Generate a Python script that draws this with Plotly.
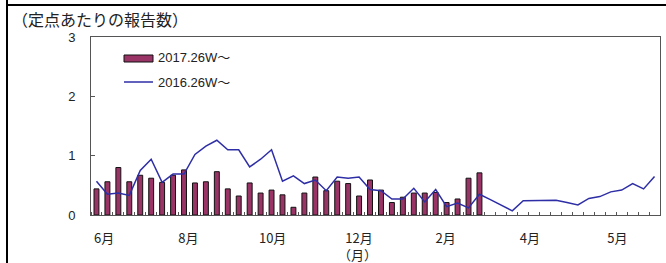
import plotly.graph_objects as go

# ---- data ----
weeks_2016 = list(range(52))
values_2016 = [0.57, 0.35, 0.37, 0.33, 0.75, 0.94, 0.55, 0.69, 0.69, 1.02,
               1.16, 1.26, 1.10, 1.10, 0.81, 0.94, 1.10, 0.57, 0.66, 0.53,
               0.59, 0.41, 0.64, 0.62, 0.64, 0.43, 0.41, 0.27, 0.27, 0.45,
               0.22, 0.43, 0.14, 0.20, 0.12, 0.35, 0.26, 0.17, 0.07, 0.24,
               0.24, 0.25, 0.25, 0.21, 0.17, 0.28, 0.31, 0.39, 0.42, 0.53,
               0.44, 0.65]
weeks_2017 = list(range(36))
values_2017 = [0.44, 0.56, 0.80, 0.56, 0.67, 0.62, 0.55, 0.67, 0.76, 0.54,
               0.56, 0.73, 0.44, 0.32, 0.54, 0.37, 0.42, 0.34, 0.13, 0.37,
               0.64, 0.41, 0.57, 0.53, 0.32, 0.59, 0.42, 0.21, 0.30, 0.37,
               0.37, 0.38, 0.21, 0.27, 0.62, 0.71]
month_labels = ["6月", "8月", "10月", "12月", "2月", "4月", "5月"]
month_positions = [0.7, 8.4, 16.1, 24.0, 31.9, 39.6, 47.6]
series_names = ["2017.26W～", "2016.26W～"]

FONT = "Liberation Sans, Arial, Noto Sans CJK JP, sans-serif"
JFONT = "Noto Sans CJK JP, Liberation Sans, sans-serif"
BAR_COLOR = "#9A3466"
LINE_COLOR = "#2E2EA6"
TXT = "#222222"

fig = go.Figure()
fig.add_trace(go.Bar(x=weeks_2017, y=values_2017, name=series_names[0],
                     width=0.45, marker=dict(color=BAR_COLOR,
                     line=dict(color="#111111", width=1)), showlegend=False))
fig.add_trace(go.Scatter(x=weeks_2016, y=values_2016, name=series_names[1],
                         mode="lines", line=dict(color=LINE_COLOR, width=1.5),
                         showlegend=False))

# plot area geometry: x 91..660, y 37..215
L, R, T, B = 91, 660, 37, 215
W, H = R - L, B - T
def px(x):
    return (x - L) / W
def py(y):
    return (B - y) / H

shapes = [
    dict(type="line", xref="paper", yref="paper", x0=px(7), x1=px(666), y0=py(5), y1=py(5),
         line=dict(color="black", width=2)),
    dict(type="line", xref="paper", yref="paper", x0=px(7), x1=px(7), y0=py(0), y1=py(263),
         line=dict(color="black", width=2)),
    dict(type="rect", xref="paper", yref="paper", x0=px(124), x1=px(153), y0=py(62), y1=py(55),
         fillcolor=BAR_COLOR, line=dict(color="#111111", width=1)),
    dict(type="line", xref="paper", yref="paper", x0=px(124), x1=px(153), y0=py(82), y1=py(82),
         line=dict(color=LINE_COLOR, width=1.5)),
]
annotations = [
    dict(text="（定点あたりの報告数）", xref="paper", yref="paper", x=px(10), y=py(19),
         xanchor="left", yanchor="middle", showarrow=False,
         font=dict(family=JFONT, size=16, color=TXT)),
    dict(text="（月）", xref="paper", yref="paper", x=px(357), y=py(254),
         xanchor="center", yanchor="middle", showarrow=False,
         font=dict(family=JFONT, size=13, color=TXT)),
    dict(text=series_names[0], xref="paper", yref="paper", x=px(156), y=py(58),
         xanchor="left", yanchor="middle", showarrow=False,
         font=dict(family=FONT, size=13, color=TXT)),
    dict(text=series_names[1], xref="paper", yref="paper", x=px(156), y=py(82),
         xanchor="left", yanchor="middle", showarrow=False,
         font=dict(family=FONT, size=13, color=TXT)),
]

fig.update_layout(
    width=666, height=263,
    margin=dict(l=L, r=666 - R, t=T, b=263 - B),
    paper_bgcolor="white", plot_bgcolor="white",
    shapes=shapes, annotations=annotations,
    font=dict(family=FONT, size=13, color=TXT),
)
fig.update_xaxes(range=[-0.5, 51.5], tickmode="array", tickvals=month_positions,
                 ticktext=month_labels, ticks="", showgrid=False, zeroline=False,
                 showline=True, linecolor="#555555", linewidth=1, mirror=True,
                 ticklabelstandoff=11,
                 tickfont=dict(family=JFONT, size=13, color=TXT),
                 minor=dict(tickmode="array", tickvals=[k - 0.5 for k in range(53)],
                            ticks="inside", ticklen=3, tickcolor="#555555", showgrid=False))
fig.update_yaxes(range=[0, 3], tickvals=[0, 1, 2, 3], ticks="inside", ticklen=4,
                 tickcolor="#555555", showgrid=False, zeroline=False,
                 showline=True, linecolor="#555555", linewidth=1, mirror=True,
                 ticklabelstandoff=12,
                 tickfont=dict(family=FONT, size=13, color=TXT))

fig.write_html("out.html", config={"displayModeBar": False},
               post_script="document.body.style.margin='0';document.body.style.overflow='hidden';")
